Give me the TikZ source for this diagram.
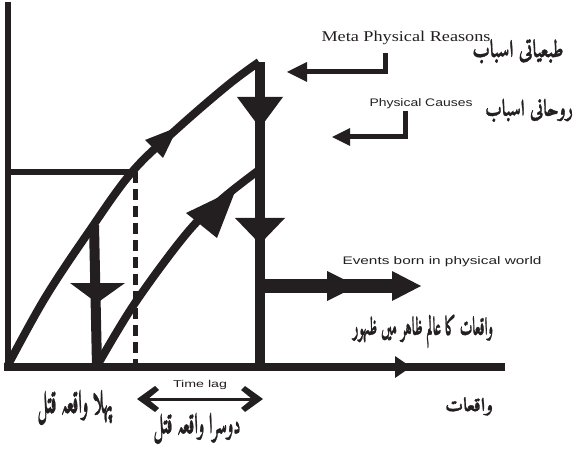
\documentclass[tikz,border=0pt]{standalone}
\usepackage{fontspec}
\usepackage{graphicx}
\setmainfont{Liberation Serif}
\newfontfamily\sansf{Liberation Sans}
\newfontfamily\urdu[Script=Arabic, FakeBold=1.5]{Amiri-Bold.ttf}
\TeXXeTstate=1
\definecolor{ink}{HTML}{231F20}
\newcommand\urtxt[3]{\resizebox*{#1}{#2}{\urdu #3}}
\newcommand\entxt[2]{\resizebox{#1}{\height}{#2}}
\begin{document}
\begin{tikzpicture}[x=1bp,y=-1bp,
  axisline/.style={draw=ink, line width=6bp},
  curveline/.style={draw=ink, line width=8bp, line join=round},
  stemline/.style={draw=ink, line width=10bp},
  hookline/.style={draw=ink, line width=5bp},
  headfill/.style={fill=ink, draw=none},
  engserif/.style={inner sep=0, text=ink, font=\fontsize{15}{15}\selectfont},
  engsans/.style={inner sep=0, text=ink, font=\sansf\fontsize{11}{11}\selectfont},
  urdutext/.style={inner sep=0, text=ink}]
\useasboundingbox (0,0) rectangle (574,454);
% key points
\coordinate (origin) at (8,367);
\coordinate (ytop) at (8,2);
\coordinate (xend) at (505,367);
\coordinate (xstart) at (4,367);
\coordinate (lvl) at (8,172);
\coordinate (lvlend) at (135,172);
\coordinate (dashbot) at (135,367);
\coordinate (c1a) at (8,365);
\coordinate (c1b) at (45,298);
\coordinate (c1c) at (88,233);
\coordinate (c1d) at (132,172);
\coordinate (c1e) at (178,128);
\coordinate (c1f) at (228,85);
\coordinate (peak) at (259,62);
\coordinate (c2a) at (97,366);
\coordinate (c2b) at (135,303);
\coordinate (c2c) at (187,233);
\coordinate (c2d) at (222,199);
\coordinate (c2e) at (259,170);
\coordinate (stemtop) at (260,62);
\coordinate (stembot) at (260,367);
\coordinate (lstemtop) at (94,225);
\coordinate (lstembot) at (97,367);
\coordinate (evstart) at (260,286);
\coordinate (evend) at (395,286);
% axes
\draw[axisline] (ytop) -- (origin);
\draw[axisline, line width=8bp] (xstart) -- (xend);
\fill[headfill] (395,356) -- (411,367) -- (395,378) -- cycle;
% level line and dashed
\draw[axisline] (lvl) -- (lvlend);
\draw[draw=ink, line width=5bp, dash pattern=on 11bp off 6bp] (lvlend) -- (dashbot);
% curves
\draw[curveline] plot[smooth, tension=0.6] coordinates {(c1a) (c1b) (c1c) (c1d) (c1e) (c1f) (peak)};
\draw[curveline] plot[smooth, tension=0.6] coordinates {(c2a) (c2b) (c2c) (c2d) (c2e)};
% stems
\draw[stemline] (stemtop) -- (stembot);
\draw[stemline] (lstemtop) -- (lstembot);
% arrowheads on curves
\fill[headfill] (145,140) -- (178,127) -- (163,158) -- cycle;
\fill[headfill] (186,213) -- (236,189) -- (217,238) -- cycle;
% arrowheads on stems
\fill[headfill] (237,97) -- (283,97) -- (260,128) -- cycle;
\fill[headfill] (235,218) -- (285,218) -- (260,244) -- cycle;
\fill[headfill] (70,283) -- (125,283) -- (97,303) -- cycle;
% events arrow
\draw[draw=ink, line width=14bp] (evstart) -- (evend);
\fill[headfill] (327,271) -- (357,286) -- (327,301) -- cycle;
\fill[headfill] (392,271) -- (421,286) -- (392,301) -- cycle;
% hook arrows
\coordinate (mtop) at (385,53);
\coordinate (mcorner) at (385,72);
\coordinate (mend) at (305,72);
\draw[hookline] (mtop) -- (mcorner) -- (mend);
\fill[headfill] (307,62) -- (287,72) -- (307,82) -- cycle;
\coordinate (ptop) at (405,111);
\coordinate (pcorner) at (405,137);
\coordinate (pend) at (348,137);
\draw[hookline] (ptop) -- (pcorner) -- (pend);
\fill[headfill] (350,128) -- (332,137) -- (350,146) -- cycle;
% time lag arrow
\coordinate (tlL) at (140,399);
\coordinate (tlR) at (260,399);
\draw[draw=ink, line width=3bp] (tlL) -- (tlR);
\fill[headfill] (137,399) -- (155,386) -- (159,390) -- (148,399) -- (159,408) -- (155,412) -- cycle;
\fill[headfill] (263,399) -- (245,386) -- (241,390) -- (252,399) -- (241,408) -- (245,412) -- cycle;
% texts
\node[engserif] (meta) at (406,38) {\entxt{169bp}{Meta Physical Reasons}};
\node[urdutext] (u1) at (518,51) {\urtxt{91bp}{25bp}{\beginR طبعیاتی اسباب\endR}};
\node[engsans] (phys) at (421,104) {\entxt{103bp}{Physical Causes}};
\node[urdutext] (u2) at (529,110) {\urtxt{88bp}{24bp}{\beginR روحانی اسباب\endR}};
\node[engsans] (events) at (442,262) {\entxt{199bp}{Events born in physical world}};
\node[urdutext] (u3) at (423,331) {\urtxt{140bp}{34bp}{\beginR واقعات کا عالم ظاہر میں ظہور\endR}};
\node[engsans, font=\sansf\fontsize{10}{10}\selectfont] (tlag) at (200,385) {\entxt{54bp}{Time lag}};
\node[urdutext] (u4) at (75,407) {\urtxt{75bp}{36bp}{\beginR پہلا واقعہ قتل\endR}};
\node[urdutext] (u5) at (197,428) {\urtxt{87bp}{32bp}{\beginR دوسرا واقعہ قتل\endR}};
\node[urdutext] (u6) at (469,406) {\urtxt{48bp}{19bp}{\beginR واقعات\endR}};
\end{tikzpicture}
\end{document}
